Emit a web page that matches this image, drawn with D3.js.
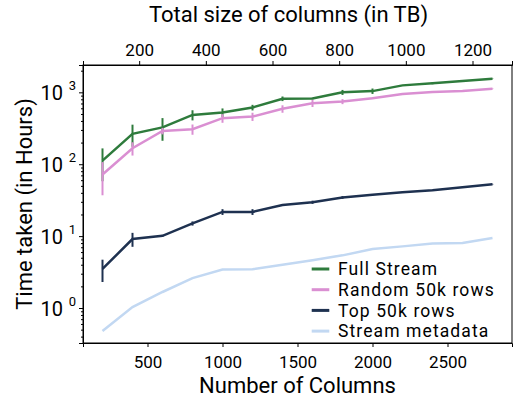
<!DOCTYPE html>
<html>
<head>
<meta charset="utf-8">
<script src="https://cdn.jsdelivr.net/npm/d3@7"></script>
<style>
  body { margin: 0; background: #fff; }
  text { font-family: Roboto, "Noto Sans", sans-serif; fill: #000; }
</style>
</head>
<body>
<div id="chart"></div>
<script>
// data
const columns = [200, 400, 600, 800, 1000, 1200, 1400, 1600, 1800, 2000, 2200, 2400, 2600, 2800];

const fullStream    = [112, 265, 325, 485, 525, 615, 815, 820, 1000, 1040, 1250, 1335, 1440, 1550];
const fullStreamErr = [54, 90, 113, 78, 72, 55, 60, 20, 80, 90, 15, 40, 10, 10];

const random50k     = [72, 167, 290, 307, 437, 460, 590, 705, 745, 830, 950, 1010, 1040, 1120];
const random50kErr  = [35, 35, 30, 50, 60, 60, 70, 80, 60, 20, 10, 10, 10, 10];

const top50k        = [3.5, 9.1, 10.1, 15, 21.7, 21.7, 27, 29.6, 34.5, 37.5, 40.8, 43.6, 48, 52.8];
const top50kErr     = [1.2, 2, 0.3, 1, 2, 2, 0.5, 1.5, 1.5, 0.5, 0.4, 0.4, 0.4, 0.4];

const metadata      = [0.48, 1.03, 1.67, 2.6, 3.43, 3.45, 4.0, 4.6, 5.4, 6.6, 7.2, 7.9, 8.0, 9.4];

const seriesNames = ["Full Stream", "Random 50k rows", "Top 50k rows", "Stream metadata"];
const colors = ["#2e7b3c", "#da8fd2", "#1e3150", "#c2d8f2"];

const xTicks = [500, 1000, 1500, 2000, 2500];
const topTicks = [200, 400, 600, 800, 1000, 1200];   // TB
const tbPerColumn = 0.45;
const yTicks = [1, 10, 100, 1000];

const W = 516, H = 400;
const margin = ({top: 65, right: 4, bottom: 57, left: 83});
const width = W - margin.left - margin.right;
const height = H - margin.top - margin.bottom;

const svg = d3.select("#chart")
              .append("svg")
              .attr("width", W)
              .attr("height", H)
              .append("g")
              .attr("transform", "translate(" + margin.left + "," + margin.top + ")");

const xScale = d3.scaleLinear().domain([70, 2930]).range([0, width]);
const topScale = d3.scaleLinear()
                   .domain([70 * tbPerColumn, 2930 * tbPerColumn])
                   .range([0, width]);
const yScale = d3.scaleLog().domain([0.326, 2400]).range([height, 0]);

//axes
const xAxis = svg.append("g")
    .attr("transform", `translate(0, ${height})`)
    .call(d3.axisBottom(xScale).tickValues(xTicks).tickSize(4).tickPadding(9).tickFormat(d3.format("d")));
xAxis.selectAll("text").style("font-size", "17px");

const tAxis = svg.append("g")
    .call(d3.axisTop(topScale).tickValues(topTicks).tickSize(4).tickPadding(5).tickFormat(d3.format("d")));
tAxis.selectAll("text").style("font-size", "17px");

const minor = [];
[-1, 0, 1, 2, 3].forEach(e => {
    for (let k = 2; k <= 9; k++) {
        const v = k * Math.pow(10, e);
        if (v > 0.326 && v < 2400) minor.push(v);
    }
});
svg.append("g")
    .call(d3.axisLeft(yScale).tickValues(minor).tickSize(2).tickFormat(""))
    .call(g => g.select(".domain").remove());

const yAxis = svg.append("g")
    .call(d3.axisLeft(yScale).tickValues(yTicks).tickSize(4).tickPadding(6).tickFormat(""));
yAxis.selectAll(".tick").append("text")
    .attr("x", -20)
    .attr("dy", "0.36em")
    .attr("text-anchor", "end")
    .style("font-size", "20px")
    .text("10");
yAxis.selectAll(".tick").append("text")
    .attr("x", -7)
    .attr("dy", "-0.2em")
    .attr("text-anchor", "end")
    .style("font-size", "13px")
    .text(d => Math.round(Math.log10(d)));

svg.selectAll(".domain").attr("stroke", "#000");

// frame
svg.append("rect")
    .attr("width", width)
    .attr("height", height)
    .attr("fill", "none")
    .attr("stroke", "#000")
    .attr("stroke-width", 1);

// series
const all = [
    {vals: fullStream, err: fullStreamErr},
    {vals: random50k, err: random50kErr},
    {vals: top50k, err: top50kErr},
    {vals: metadata, err: null}
];

const line = d3.line()
    .x(d => xScale(d.x))
    .y(d => yScale(d.y));

all.forEach((s, i) => {
    const pts = columns.map((c, j) => ({x: c, y: s.vals[j], e: s.err ? s.err[j] : 0}));
    svg.append("path")
        .datum(pts)
        .attr("fill", "none")
        .attr("stroke", colors[i])
        .attr("stroke-width", 2.5)
        .attr("d", line);
    if (s.err) {
        svg.append("g").selectAll("line")
            .data(pts)
            .join("line")
            .attr("x1", d => xScale(d.x))
            .attr("x2", d => xScale(d.x))
            .attr("y1", d => yScale(d.y + d.e))
            .attr("y2", d => yScale(Math.max(d.y - d.e, 0.33)))
            .attr("stroke", colors[i])
            .attr("stroke-width", 2);
    }
});

// legend
const legend = svg.append("g")
    .attr("transform", `translate(${311.7 - margin.left}, ${269 - margin.top})`);
seriesNames.forEach((n, i) => {
    const row = legend.append("g").attr("transform", `translate(0, ${i * 20.7})`);
    row.append("line")
        .attr("x1", 0).attr("x2", 17.6)
        .attr("stroke", colors[i])
        .attr("stroke-width", 3);
    row.append("text")
        .attr("x", 26.3)
        .attr("dy", "0.36em")
        .style("font-size", "17.5px")
        .style("letter-spacing", "1.1px")
        .text(n);
});

// titles
svg.append("text")
    .attr("x", width / 2)
    .attr("y", height + 50)
    .attr("text-anchor", "middle")
    .style("font-size", "22px")
    .text("Number of Columns");

svg.append("text")
    .attr("x", width / 2 - 9)
    .attr("y", 22 - margin.top)
    .attr("text-anchor", "middle")
    .style("font-size", "22px")
    .text("Total size of columns (in TB)");

svg.append("text")
    .attr("transform", `translate(${32 - margin.left}, ${height / 2}) rotate(-90)`)
    .attr("text-anchor", "middle")
    .style("font-size", "22px")
    .text("Time taken (in Hours)");
</script>
</body>
</html>
